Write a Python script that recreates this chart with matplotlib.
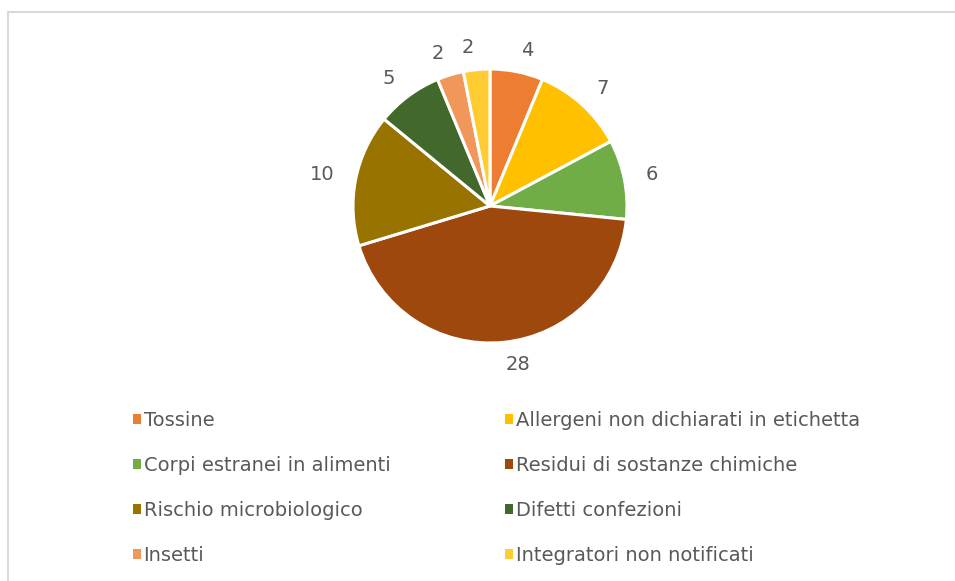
import matplotlib.pyplot as plt
from matplotlib.patches import Patch
from matplotlib.lines import Line2D

categories = ["Tossine", "Allergeni non dichiarati in etichetta", "Corpi estranei in alimenti",
              "Residui di sostanze chimiche", "Rischio microbiologico", "Difetti confezioni",
              "Insetti", "Integratori non notificati"]
values = [4, 7, 6, 28, 10, 5, 2, 2]
colors = ["#ED7D31", "#FFC000", "#70AD47", "#9E480E", "#997300", "#43682B", "#F1975A", "#FFCD33"]

W, H = 955, 581
fig = plt.figure(figsize=(W / 100, H / 100), dpi=100)
plt.rcParams['font.family'] = ['DejaVu Sans']
text_col = "#595959"

# pie centred around (490, 206) px, radius ~137 px
cx, cy, r = 490, 206, 137
ax = fig.add_axes([(cx - r) / W, (H - cy - r) / H, 2 * r / W, 2 * r / H])
wedges, texts = ax.pie(values, labels=[str(v) for v in values], colors=colors,
                       startangle=90, counterclock=False, labeldistance=1.16,
                       wedgeprops=dict(edgecolor="white", linewidth=2.2),
                       textprops=dict(color=text_col, fontsize=14))
ax.set_xlim(-1, 1)
ax.set_ylim(-1, 1)
ax.set_aspect('equal')
ax.axis('off')

# legend, row-wise ordering over 2 columns
order = [0, 2, 4, 6, 1, 3, 5, 7]
handles = [Patch(facecolor=colors[i], edgecolor='none', label=categories[i]) for i in order]
leg = fig.legend(handles=handles, ncol=2, loc='upper left',
                 bbox_to_anchor=(115 / W, 1 - 393 / H), frameon=False,
                 fontsize=14, labelcolor=text_col, handlelength=0.42, handleheight=0.42,
                 handletextpad=0.15, columnspacing=5.9, labelspacing=1.35)

# chart border (left + top only visible)
fig.add_artist(Line2D([8 / W, 8 / W], [0, 1 - 12 / H], color="#d9d9d9", lw=1.5,
                      transform=fig.transFigure))
fig.add_artist(Line2D([8 / W, 1], [1 - 12 / H, 1 - 12 / H], color="#d9d9d9", lw=1.5,
                      transform=fig.transFigure))

fig.savefig("out.png", dpi=100, facecolor="white")
